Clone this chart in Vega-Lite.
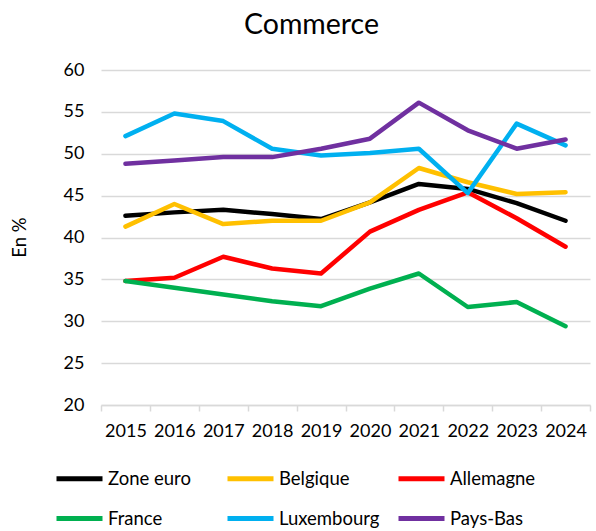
{
  "$schema": "https://vega.github.io/schema/vega-lite/v6.json",
  "width": 489,
  "height": 335,
  "autosize": {"type": "none"},
  "padding": {"left": 101, "top": 70, "right": 6, "bottom": 126},
  "background": "white",
  "title": {"text": "Commerce", "fontSize": 28.5, "font": "Lato", "fontWeight": "normal", "color": "black", "anchor": "middle", "dx": -34, "offset": 22},
  "config": {"view": {"stroke": null}, "font": "Lato"},
  "data": {"values": [
    {"year": "2015", "pays": "Zone euro", "v": 42.6},
    {"year": "2016", "pays": "Zone euro", "v": 43.0},
    {"year": "2017", "pays": "Zone euro", "v": 43.3},
    {"year": "2018", "pays": "Zone euro", "v": 42.8},
    {"year": "2019", "pays": "Zone euro", "v": 42.2},
    {"year": "2020", "pays": "Zone euro", "v": 44.2},
    {"year": "2021", "pays": "Zone euro", "v": 46.4},
    {"year": "2022", "pays": "Zone euro", "v": 45.8},
    {"year": "2023", "pays": "Zone euro", "v": 44.1},
    {"year": "2024", "pays": "Zone euro", "v": 42.0},
    {"year": "2015", "pays": "Belgique", "v": 41.3},
    {"year": "2016", "pays": "Belgique", "v": 44.0},
    {"year": "2017", "pays": "Belgique", "v": 41.6},
    {"year": "2018", "pays": "Belgique", "v": 42.0},
    {"year": "2019", "pays": "Belgique", "v": 42.0},
    {"year": "2020", "pays": "Belgique", "v": 44.2},
    {"year": "2021", "pays": "Belgique", "v": 48.3},
    {"year": "2022", "pays": "Belgique", "v": 46.6},
    {"year": "2023", "pays": "Belgique", "v": 45.2},
    {"year": "2024", "pays": "Belgique", "v": 45.4},
    {"year": "2015", "pays": "Allemagne", "v": 34.8},
    {"year": "2016", "pays": "Allemagne", "v": 35.2},
    {"year": "2017", "pays": "Allemagne", "v": 37.7},
    {"year": "2018", "pays": "Allemagne", "v": 36.3},
    {"year": "2019", "pays": "Allemagne", "v": 35.7},
    {"year": "2020", "pays": "Allemagne", "v": 40.7},
    {"year": "2021", "pays": "Allemagne", "v": 43.3},
    {"year": "2022", "pays": "Allemagne", "v": 45.4},
    {"year": "2023", "pays": "Allemagne", "v": 42.3},
    {"year": "2024", "pays": "Allemagne", "v": 38.9},
    {"year": "2015", "pays": "France", "v": 34.8},
    {"year": "2016", "pays": "France", "v": 34.0},
    {"year": "2017", "pays": "France", "v": 33.2},
    {"year": "2018", "pays": "France", "v": 32.4},
    {"year": "2019", "pays": "France", "v": 31.8},
    {"year": "2020", "pays": "France", "v": 33.9},
    {"year": "2021", "pays": "France", "v": 35.7},
    {"year": "2022", "pays": "France", "v": 31.7},
    {"year": "2023", "pays": "France", "v": 32.3},
    {"year": "2024", "pays": "France", "v": 29.4},
    {"year": "2015", "pays": "Luxembourg", "v": 52.1},
    {"year": "2016", "pays": "Luxembourg", "v": 54.8},
    {"year": "2017", "pays": "Luxembourg", "v": 53.9},
    {"year": "2018", "pays": "Luxembourg", "v": 50.6},
    {"year": "2019", "pays": "Luxembourg", "v": 49.8},
    {"year": "2020", "pays": "Luxembourg", "v": 50.1},
    {"year": "2021", "pays": "Luxembourg", "v": 50.6},
    {"year": "2022", "pays": "Luxembourg", "v": 45.3},
    {"year": "2023", "pays": "Luxembourg", "v": 53.6},
    {"year": "2024", "pays": "Luxembourg", "v": 51.0},
    {"year": "2015", "pays": "Pays-Bas", "v": 48.8},
    {"year": "2016", "pays": "Pays-Bas", "v": 49.2},
    {"year": "2017", "pays": "Pays-Bas", "v": 49.6},
    {"year": "2018", "pays": "Pays-Bas", "v": 49.6},
    {"year": "2019", "pays": "Pays-Bas", "v": 50.6},
    {"year": "2020", "pays": "Pays-Bas", "v": 51.8},
    {"year": "2021", "pays": "Pays-Bas", "v": 56.1},
    {"year": "2022", "pays": "Pays-Bas", "v": 52.8},
    {"year": "2023", "pays": "Pays-Bas", "v": 50.6},
    {"year": "2024", "pays": "Pays-Bas", "v": 51.7}
  ]},
  "mark": {"type": "line", "strokeWidth": 4.5, "strokeJoin": "round", "strokeCap": "round"},
  "encoding": {
    "x": {"field": "year", "type": "ordinal",
      "scale": {"type": "band", "paddingInner": 0, "paddingOuter": 0},
      "axis": {"title": null, "labelAngle": 0, "labelFontSize": 18, "labelColor": "black", "labelPadding": 11, "tickBand": "extent", "tickSize": 6, "tickColor": "#d9d9d9", "tickWidth": 1.5, "domainColor": "#d9d9d9", "domainWidth": 1.5, "grid": false}},
    "y": {"field": "v", "type": "quantitative",
      "scale": {"domain": [20, 60], "nice": false, "zero": false},
      "axis": {"title": "En %", "titleFontSize": 18.5, "titleFontWeight": "normal", "titleColor": "black", "titleX": -82, "titleY": 167, "titleAngle": -90, "titleAlign": "center", "titleBaseline": "middle",
        "values": [20, 25, 30, 35, 40, 45, 50, 55, 60], "labelFontSize": 18, "labelColor": "black", "labelPadding": 17, "ticks": false, "domain": false, "gridColor": "#d9d9d9", "gridWidth": 1.5}},
    "color": {"field": "pays", "type": "nominal",
      "scale": {"domain": ["Zone euro", "Belgique", "Allemagne", "France", "Luxembourg", "Pays-Bas"],
        "range": ["#000000", "#FFC000", "#FF0000", "#00B050", "#00B0F0", "#7030A0"]},
      "legend": {"title": null, "orient": "none", "legendX": -47, "legendY": 383, "direction": "horizontal", "columns": 3, "gridAlign": "all",
        "symbolType": "stroke", "symbolSize": 2116, "symbolStrokeWidth": 5, "labelFontSize": 18.5, "labelColor": "black", "labelOffset": 3, "columnPadding": 8, "rowPadding": 4, "labelLimit": 200}}
  }
}
